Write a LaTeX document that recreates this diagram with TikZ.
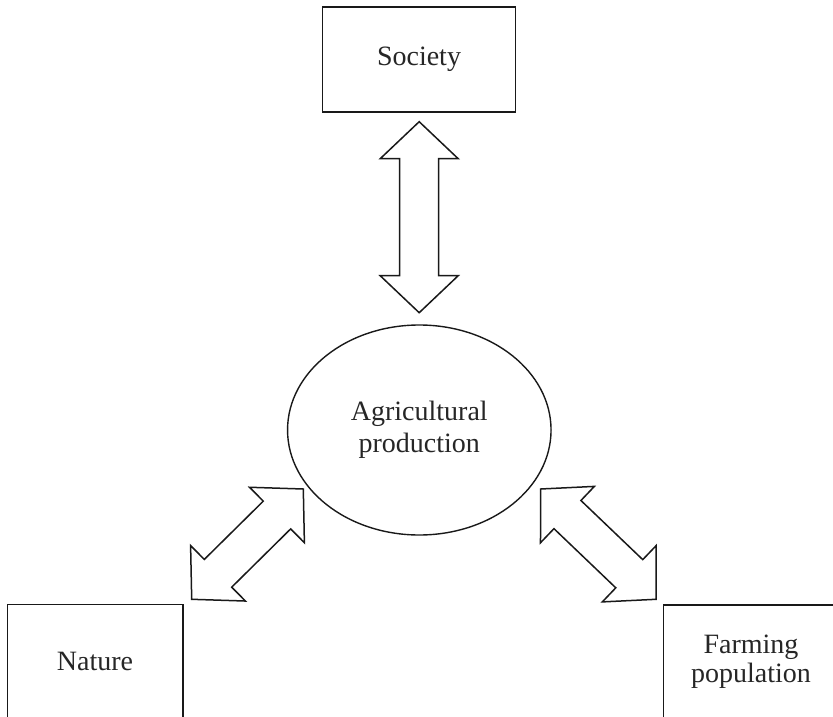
\documentclass[tikz,border=0pt]{standalone}
\usepackage{fontspec}
\setmainfont{Liberation Serif}
\usetikzlibrary{shapes.geometric,calc}
\newcommand\arrhl{37pt}
\newcommand\arrHW{39pt}
\newcommand\arrsw{19.5pt}
\newcommand\dblarrow[2]{%
  \coordinate (#1h) at ($(#1)!\arrhl!(#2)$);
  \coordinate (#2h) at ($(#2)!\arrhl!(#1)$);
  \draw[blockarrow]
    (#1)
    -- ($(#1h)!\arrHW!90:(#2)$)
    -- ($(#1h)!\arrsw!90:(#2)$)
    -- ($(#2h)!\arrsw!-90:(#1)$)
    -- ($(#2h)!\arrHW!-90:(#1)$)
    -- (#2)
    -- ($(#2h)!\arrHW!90:(#1)$)
    -- ($(#2h)!\arrsw!90:(#1)$)
    -- ($(#1h)!\arrsw!-90:(#2)$)
    -- ($(#1h)!\arrHW!-90:(#2)$)
    -- cycle;}
\tikzset{
  txt/.style={font=\fontsize{28}{28.5}\selectfont, align=center, text=black!85},
  box/.style={txt, draw=black!90, line width=1.5pt, rectangle, inner sep=0pt},
  oval/.style={txt, draw=black!90, line width=1.4pt, ellipse, inner sep=0pt},
  blockarrow/.style={draw=black!90, line width=1.5pt, line join=miter, fill=white}
}
\begin{document}
\begin{tikzpicture}[x=1pt, y=-1pt]
  \useasboundingbox (0,0) rectangle (833,717);
  \node[box, minimum width=193pt, minimum height=105pt] (society) at (419,59.5) {Society};
  \node[oval, minimum width=263.5pt, minimum height=210pt,
        font=\fontsize{28}{31.7}\selectfont] (agri) at (419.3,430) {Agricultural\\production};
  \node[box, minimum width=175.5pt, minimum height=114pt] (nature) at (95,661.5) {Nature};
  \node[box, minimum width=175.5pt, minimum height=114pt] (farming) at (751,661.8) {Farming\\population};
  \coordinate (sA) at (419.2,121.7);
  \coordinate (sB) at (419.2,312.7);
  \coordinate (nA) at (303.3,489);
  \coordinate (nB) at (191.7,599.3);
  \coordinate (fA) at (540.7,489);
  \coordinate (fB) at (656,599.3);
  \dblarrow{sA}{sB}
  \dblarrow{nA}{nB}
  \dblarrow{fA}{fB}
\end{tikzpicture}
\end{document}
